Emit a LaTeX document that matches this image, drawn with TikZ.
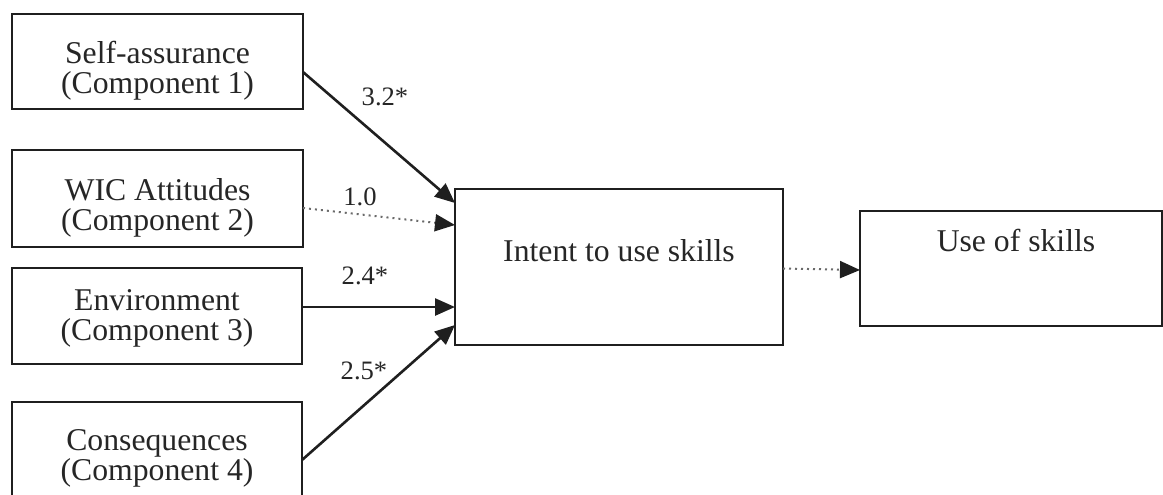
\documentclass[tikz,border=0pt]{standalone}
\usepackage{fontspec}
\setmainfont{Liberation Serif}
\usetikzlibrary{positioning, arrows.meta}
\definecolor{clrborder}{HTML}{1F1F1F}
\definecolor{clrtext}{HTML}{262626}
\definecolor{clrdotted}{HTML}{6A6A6A}

\begin{document}
\begin{tikzpicture}[
    x=0.5pt, y=-0.5pt,
    >={Triangle[length=10pt, width=8.5pt, color=clrborder]},
    every node/.style={font=\fontsize{15.85}{15}\selectfont, text=clrtext},
    block/.style={draw=clrborder, line width=1pt, inner sep=0pt, outer sep=0pt},
    boxtext/.style={align=center, inner sep=0pt},
    arrow/.style={->, color=clrborder, line width=1.3pt},
    dotarrow/.style={->, color=clrdotted, line width=1pt, dotted},
    weight/.style={font=\fontsize{13.3}{15}\selectfont, inner sep=0pt},
]
\useasboundingbox (0,0) rectangle (1163,494);
\clip (0,0) rectangle (1163,494);
% predictor boxes
\node[block, minimum width=145.5pt, minimum height=47.5pt] (n_self) at (157.5,61.5) {};
\node[boxtext] (n_self_txt) at (157.5,71) {Self-assurance\\(Component 1)};
\node[block, minimum width=145.5pt, minimum height=48.5pt] (n_wic) at (157.5,198.5) {};
\node[boxtext] (n_wic_txt) at (157.5,208) {WIC Attitudes\\(Component 2)};
\node[block, minimum width=145pt, minimum height=48pt] (n_env) at (157,316) {};
\node[boxtext] (n_env_txt) at (157,318) {Environment\\(Component 3)};
\node[block, minimum width=145pt, minimum height=55pt] (n_cons) at (157,457) {};
\node[boxtext] (n_cons_txt) at (157,458) {Consequences\\(Component 4)};
% outcome boxes
\node[block, minimum width=164pt, minimum height=78pt] (n_intent) at (619,267) {};
\node[boxtext] (n_intent_txt) at (619,251) {Intent to use skills};
\node[block, minimum width=151pt, minimum height=57.5pt] (n_use) at (1011,268.5) {};
\node[boxtext] (n_use_txt) at (1016,240) {Use of skills};
% paths
\draw[arrow] ([yshift=-5.25pt]n_self.east) -- ([yshift=32pt]n_intent.west);
\draw[dotarrow] ([yshift=-4.75pt]n_wic.east) -- ([yshift=21pt]n_intent.west);
\draw[arrow] ([yshift=4.5pt]n_env.east) -- ([yshift=-20pt]n_intent.west);
\draw[arrow] ([yshift=-1.5pt]n_cons.east) -- ([yshift=-29pt]n_intent.west);
\draw[dotarrow] ([yshift=-0.75pt]n_intent.east) -- ([yshift=-0.75pt]n_use.west);
% path weights
\node[weight] (w_self) at (385,97) {3.2*};
\node[weight] (w_wic) at (360,197) {1.0};
\node[weight] (w_env) at (365,276) {2.4*};
\node[weight] (w_cons) at (364,371) {2.5*};
\end{tikzpicture}
\end{document}
